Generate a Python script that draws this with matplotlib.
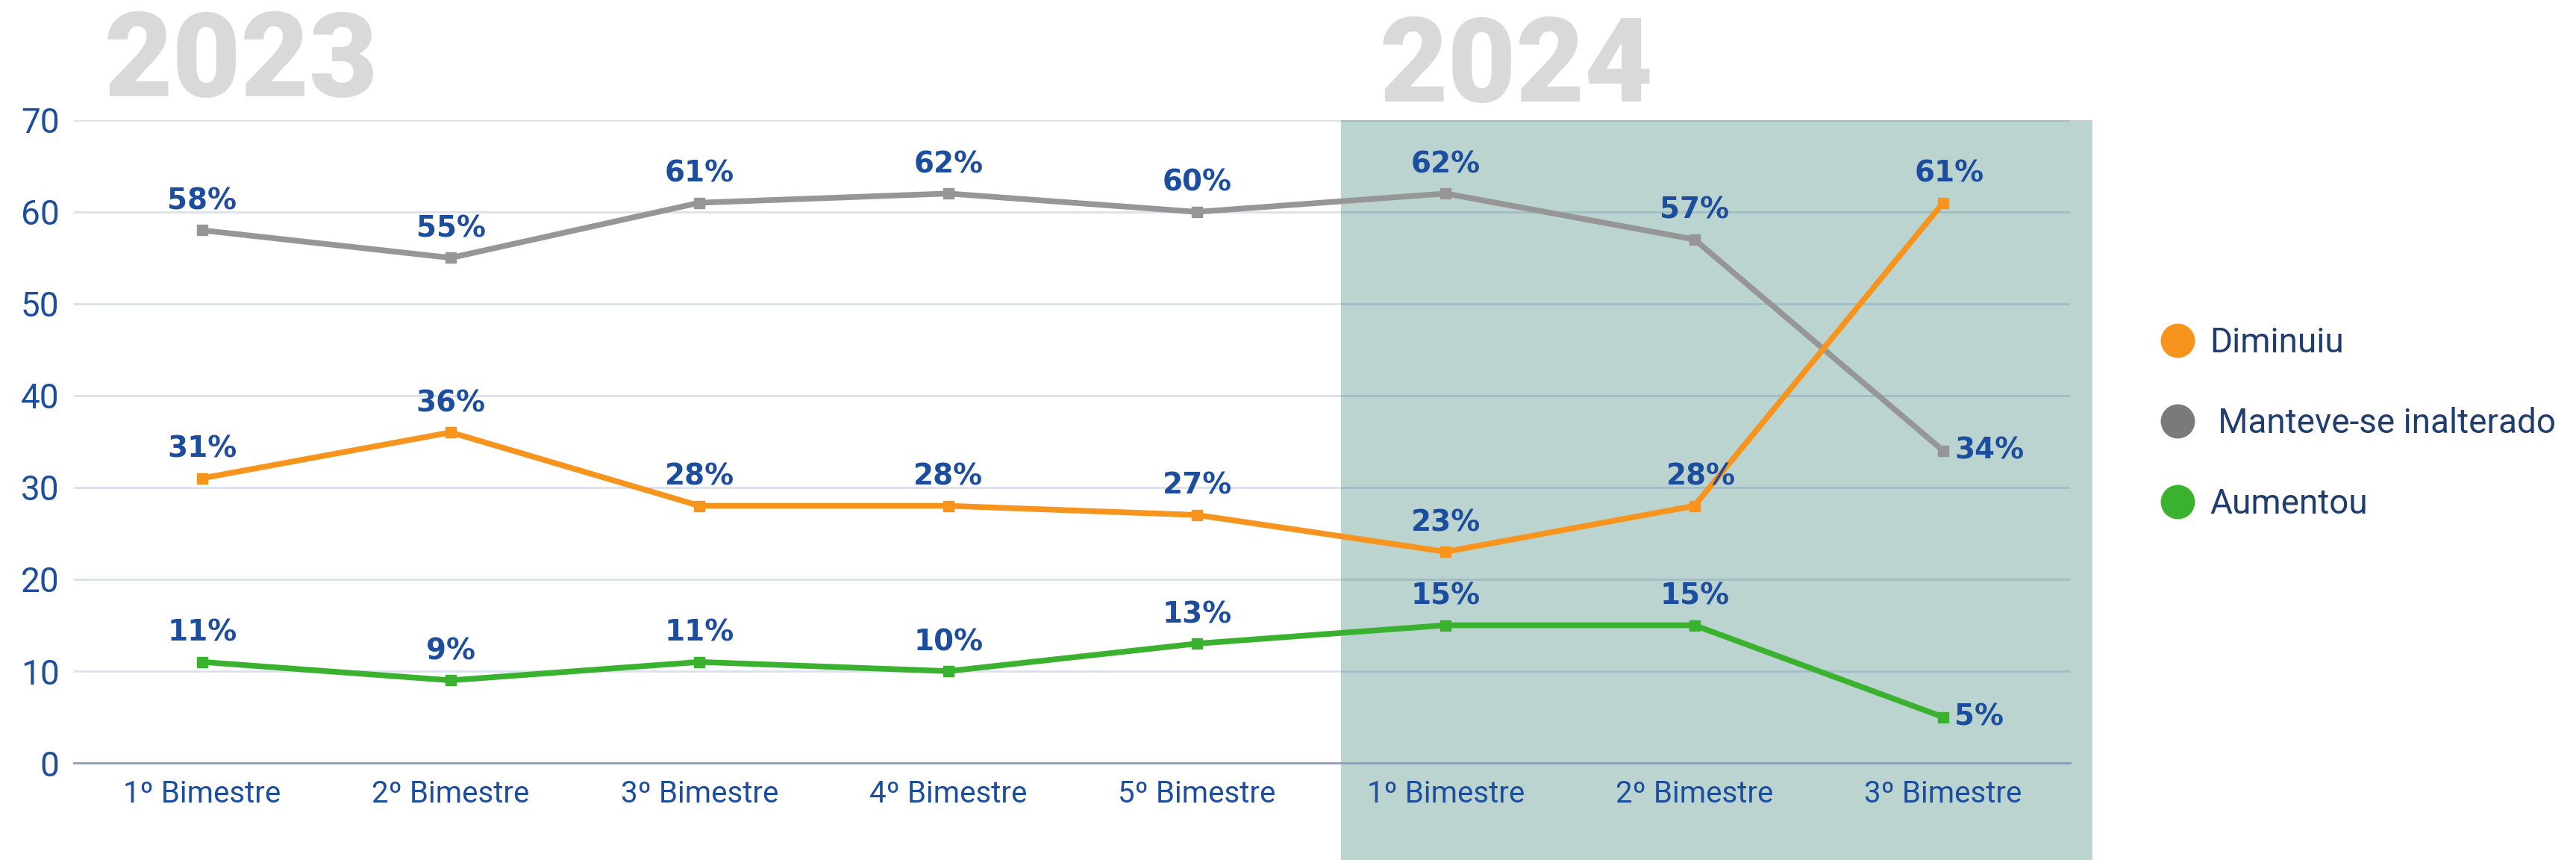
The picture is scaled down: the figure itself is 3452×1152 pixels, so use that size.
import matplotlib
matplotlib.use('Agg')
import matplotlib.pyplot as plt
import matplotlib.transforms as mtransforms
from matplotlib.lines import Line2D
from matplotlib.patches import Rectangle

# Categories (bimesters) and series values in %
categories = ['1º Bimestre', '2º Bimestre', '3º Bimestre', '4º Bimestre', '5º Bimestre',
              '1º Bimestre', '2º Bimestre', '3º Bimestre']
manteve = [58, 55, 61, 62, 60, 62, 57, 34]
diminuiu = [31, 36, 28, 28, 27, 23, 28, 61]
aumentou = [11, 9, 11, 10, 13, 15, 15, 5]
legend_labels = ['Diminuiu', ' Manteve-se inalterado', 'Aumentou']
years = ['2023', '2024']

BLUE = '#1D4E9E'
GRAY = '#969696'
ORANGE = '#F7941D'
GREEN = '#3BB22F'

fig = plt.figure(figsize=(34.52, 11.52), dpi=100)
fig.patch.set_facecolor('white')
ax = fig.add_axes([0.0287, 0.1128, 0.7749, 0.7476])

x = list(range(len(categories)))

# shaded 2024 region (x in data, y in figure coords)
trans = mtransforms.blended_transform_factory(ax.transData, fig.transFigure)
ax.add_patch(Rectangle((4.58, 0), 7.6 - 4.58, 0.8604, transform=trans,
                       facecolor='#BBD4D0', edgecolor='none', zorder=0, clip_on=False))

ax.plot(x, manteve, color=GRAY, lw=5.5, marker='s', ms=10, zorder=3)
ax.plot(x, diminuiu, color=ORANGE, lw=5.5, marker='s', ms=10, zorder=4)
ax.plot(x, aumentou, color=GREEN, lw=5.5, marker='s', ms=10, zorder=3)

lab_kw = dict(color=BLUE, fontsize=28, fontweight='bold', family='DejaVu Sans',
              textcoords='offset points', va='center', zorder=5)
for series in (manteve, diminuiu, aumentou):
    for i, v in enumerate(series):
        last = i == len(series) - 1
        if last and v < 40:
            # labels placed to the right of the final point
            ax.annotate(f'{v}%', (i, v), xytext=(11, 0), ha='left', **lab_kw)
        else:
            dx = 6 if (last or (series is diminuiu and i == 6)) else 0
            ax.annotate(f'{v}%', (i, v), xytext=(dx, 28), ha='center', **lab_kw)

ax.set_xlim(-0.515, 7.51)
ax.set_ylim(0, 70)
ax.set_yticks(range(0, 71, 10))
ax.set_xticks(x)
ax.set_xticklabels(categories, fontsize=29, color=BLUE, family='Roboto')
for t in ax.get_yticklabels():
    t.set_fontsize(33)
    t.set_color(BLUE)
    t.set_family('Roboto')
ax.tick_params(axis='both', length=0)
ax.tick_params(axis='y', pad=14)
ax.tick_params(axis='x', pad=16)

ax.grid(axis='y', color=BLUE, alpha=0.17, lw=2, zorder=1)
ax.set_axisbelow(True)
for s in ['top', 'right', 'left']:
    ax.spines[s].set_visible(False)
ax.spines['bottom'].set_color('#8A9CC2')
ax.spines['bottom'].set_linewidth(2)
ax.patch.set_alpha(0)

# year headers
fig.text(0.0934, 0.888, years[0], fontsize=114, fontweight='black', color='#D9D9D9',
         family='Roboto', ha='center', va='baseline')
fig.text(0.5887, 0.882, years[1], fontsize=114, fontweight='black', color='#D9D9D9',
         family='Roboto', ha='center', va='baseline')

# legend
handles = [Line2D([], [], ls='none', marker='o', ms=32, color=c)
           for c in (ORANGE, '#7A7A7A', GREEN)]
leg = fig.legend(handles, legend_labels, loc='center left', bbox_to_anchor=(0.8268, 0.508),
                 frameon=False, handlelength=1.0, handletextpad=0.44, labelspacing=1.4,
                 prop={'family': 'Roboto', 'size': 33})
for t in leg.get_texts():
    t.set_color('#1F3D6E')

plt.savefig('out.png', dpi=100, facecolor='white')
print("DONE: out.png")
